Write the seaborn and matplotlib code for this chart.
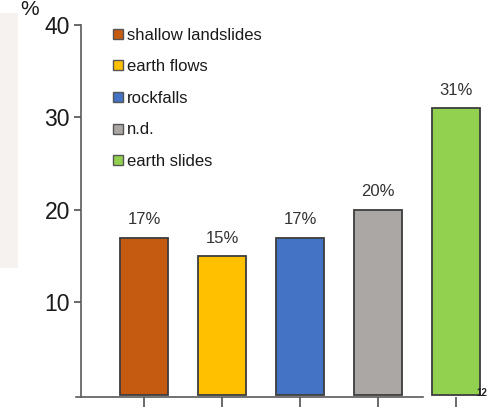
import matplotlib
matplotlib.use("Agg")
import matplotlib.pyplot as plt
from matplotlib.lines import Line2D
from matplotlib.patches import Rectangle
import seaborn as sns
import pandas as pd

categories = ["shallow landslides", "earth flows", "rockfalls", "n.d.", "earth slides"]
percentages = [17, 15, 17, 20, 31]
colors = ["#c55a11", "#ffc000", "#4472c4", "#aaa7a5", "#92d050"]
y_ticks = [10, 20, 30, 40]

sns.set_theme(style="white")
plt.rcParams["font.family"] = ["Liberation Sans", "DejaVu Sans"]

df = pd.DataFrame({"type": categories, "pct": percentages})

W, H = 488, 412
fig = plt.figure(figsize=(W / 100, H / 100), dpi=100)

# faint side panel at the left edge
fig.patches.append(Rectangle((0, 1 - 268 / H), 18 / W, (268 - 13) / H,
                             transform=fig.transFigure, facecolor="#f5f2ef",
                             edgecolor="none", zorder=0))

ax = fig.add_axes([81 / W, 1 - 396.5 / H, (488 - 81) / W, (396.5 - 25) / H])
ax.set_facecolor("none")

sns.barplot(data=df, x="type", y="pct", hue="type", palette=colors,
            legend=False, width=0.615, edgecolor="#3d3d3d", linewidth=1.3,
            saturation=1, ax=ax)

ax.set_xlim(-0.808, 4.41)
ax.set_ylim(-0.2, 40)
ax.set_yticks(y_ticks)
ax.set_xlabel("")
ax.set_ylabel("")
ax.tick_params(axis="x", labelbottom=False, bottom=True, direction="out",
               length=7, width=1.2, color="#505050")
ax.tick_params(axis="y", left=True, direction="out", length=5, width=1.2,
               color="#505050", labelsize=16.5, labelcolor="#1a1a1a", pad=3)

for side in ["top", "right"]:
    ax.spines[side].set_visible(False)
for side in ["left", "bottom"]:
    ax.spines[side].set_color("#5a5a5a")
    ax.spines[side].set_linewidth(1.2)
ax.spines["bottom"].set_bounds(-0.87, 3.58)

# value labels above each bar
for i, v in enumerate(percentages):
    ax.annotate(f"{v}%", (i, v), xytext=(0, 7.5), textcoords="offset points",
                ha="center", va="bottom", fontsize=12, color="#333333")

handles = [Line2D([0], [0], marker="s", linestyle="none", markersize=7.5,
                  markerfacecolor=c, markeredgecolor="#555555",
                  markeredgewidth=1.0) for c in colors]
fig.legend(handles, categories, loc="upper left",
           bbox_to_anchor=(112 / W, 1 - 27.5 / H), frameon=False,
           fontsize=12, handlelength=0.7, handletextpad=0.2,
           labelspacing=1.0, borderpad=0, borderaxespad=0,
           labelcolor="#1a1a1a")

fig.text(20 / W, 1 - 15 / H, "%", fontsize=15, color="#1a1a1a",
         ha="left", va="baseline")
fig.text(476 / W, 1 - 396 / H, "12", fontsize=7, fontweight="bold",
         color="#222222", ha="left", va="baseline")

fig.savefig("out.png", dpi=100)
